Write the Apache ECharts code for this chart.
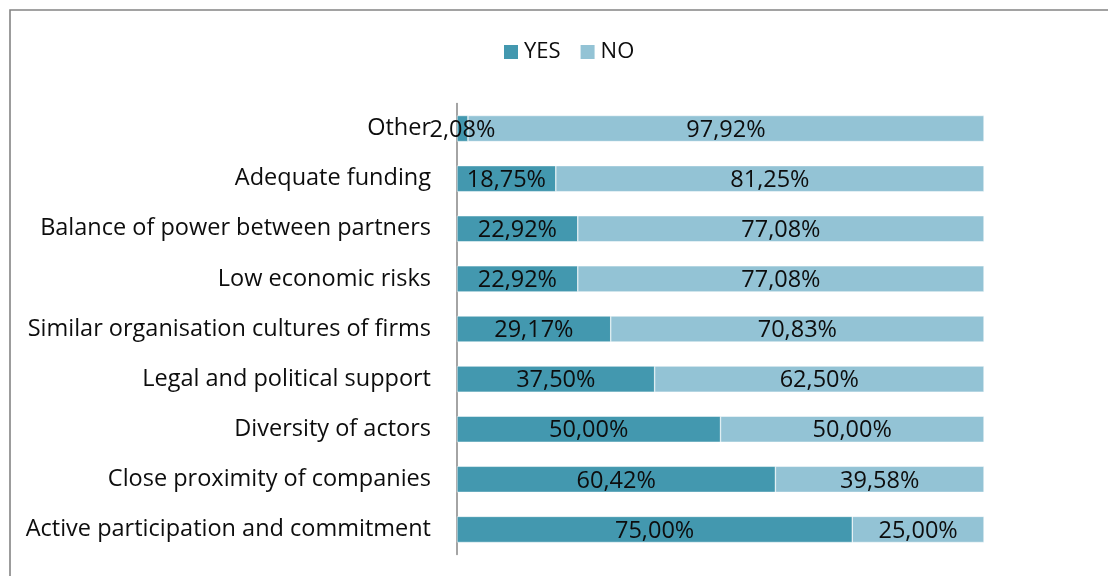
<!DOCTYPE html>
<html>
<head>
<meta charset="utf-8">
<script src="https://cdn.jsdelivr.net/npm/echarts@6/dist/echarts.min.js"></script>
<style>
  html, body { margin: 0; padding: 0; background: #fff; }
  #chart { width: 1108px; height: 576px; }
</style>
</head>
<body>
<div id="chart"></div>
<script>
// Success factors, listed top to bottom
const categories = [
  'Other',
  'Adequate funding',
  'Balance of power between partners',
  'Low economic risks',
  'Similar organisation cultures of firms',
  'Legal and political support',
  'Diversity of actors',
  'Close proximity of companies',
  'Active participation and commitment'
];
const yesValues = [2.08, 18.75, 22.92, 22.92, 29.17, 37.50, 50.00, 60.42, 75.00];
const noValues  = [97.92, 81.25, 77.08, 77.08, 70.83, 62.50, 50.00, 39.58, 25.00];

const FONT = '"Open Sans"';
const SIZE = 23.5;
const TEXT = '#0d0d0d';
const pct = v => v.toFixed(2).replace('.', ',') + '%';

const chart = echarts.init(document.getElementById('chart'), null, { renderer: 'canvas' });

const labelCfg = {
  show: true,
  position: 'inside',
  offset: [0, 1.5],
  color: TEXT,
  fontFamily: FONT,
  fontSize: SIZE,
  formatter: p => pct(p.value)
};

chart.setOption({
  animation: false,
  backgroundColor: '#fff',
  graphic: [{
    type: 'rect',
    shape: { x: 10, y: 10, width: 1200, height: 700 },
    style: { fill: 'none', stroke: '#848484', lineWidth: 1.6 },
    silent: true
  }],
  legend: {
    top: 36,
    left: 497,
    icon: 'rect',
    itemWidth: 16,
    itemHeight: 16,
    itemGap: 18,
    textStyle: { color: TEXT, fontFamily: FONT, fontSize: 22 },
    data: ['YES', 'NO']
  },
  grid: { left: 457, right: 124, top: 103.5, bottom: 21.5, containLabel: false },
  xAxis: {
    type: 'value', min: 0, max: 100,
    show: false
  },
  yAxis: {
    type: 'category',
    data: categories,
    inverse: true,
    axisLine: { show: true, lineStyle: { color: '#868686', width: 1.5 } },
    axisTick: { show: false },
    axisLabel: { color: TEXT, fontFamily: FONT, fontSize: SIZE, margin: 26, padding: [3, 0, 0, 0] },
    splitLine: { show: false }
  },
  series: [
    {
      name: 'YES', type: 'bar', stack: 'total',
      data: yesValues, barCategoryGap: '48%',
      itemStyle: { color: '#4398AF', borderColor: '#ffffff', borderWidth: 0.5 },
      label: labelCfg
    },
    {
      name: 'NO', type: 'bar', stack: 'total',
      data: noValues, barCategoryGap: '48%',
      itemStyle: { color: '#93C3D5', borderColor: '#ffffff', borderWidth: 0.5 },
      label: labelCfg
    }
  ]
});
</script>
</body>
</html>
